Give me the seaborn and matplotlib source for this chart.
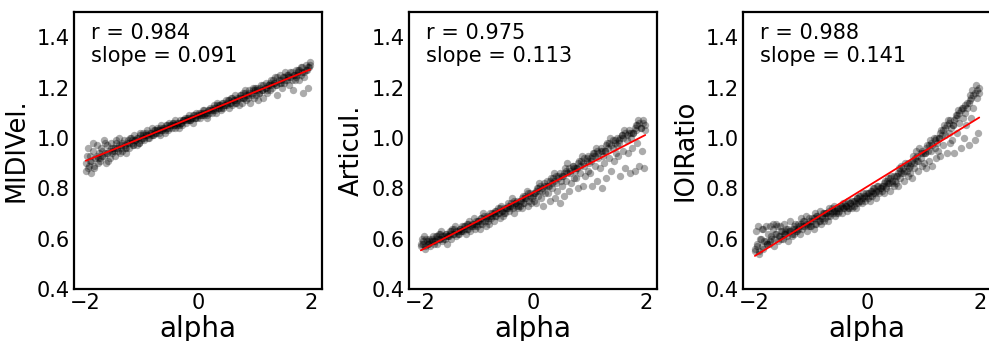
import matplotlib
matplotlib.use("Agg")
import matplotlib.pyplot as plt
import pandas as pd
import seaborn as sns

# shared alpha values (x): first pass (12 per bin), second pass (8 per bin)
alpha_vals = [
    -1.99, -1.97, -1.96, -1.94, -1.91, -1.89, -1.87, -1.85, -1.83, -1.80, -1.78, -1.76,
    -1.74, -1.72, -1.70, -1.67, -1.65, -1.63, -1.61, -1.58, -1.56, -1.54, -1.53, -1.51,
    -1.49, -1.47, -1.45, -1.43, -1.40, -1.38, -1.36, -1.34, -1.32, -1.30, -1.28, -1.26,
    -1.24, -1.22, -1.19, -1.17, -1.15, -1.13, -1.11, -1.09, -1.07, -1.05, -1.03, -1.01,
    -0.99, -0.97, -0.95, -0.92, -0.90, -0.88, -0.86, -0.84, -0.82, -0.80, -0.78, -0.76,
    -0.74, -0.72, -0.70, -0.68, -0.65, -0.63, -0.61, -0.59, -0.57, -0.55, -0.53, -0.51,
    -0.49, -0.47, -0.45, -0.43, -0.41, -0.38, -0.36, -0.34, -0.32, -0.30, -0.28, -0.26,
    -0.24, -0.22, -0.20, -0.18, -0.16, -0.14, -0.11, -0.09, -0.07, -0.05, -0.03, -0.01,
    0.01, 0.03, 0.05, 0.07, 0.09, 0.11, 0.14, 0.16, 0.18, 0.20, 0.22, 0.24,
    0.26, 0.28, 0.30, 0.32, 0.34, 0.37, 0.39, 0.41, 0.43, 0.45, 0.47, 0.49,
    0.51, 0.53, 0.55, 0.57, 0.59, 0.61, 0.64, 0.66, 0.68, 0.70, 0.72, 0.74,
    0.76, 0.78, 0.80, 0.82, 0.84, 0.86, 0.88, 0.91, 0.93, 0.95, 0.97, 0.99,
    1.01, 1.03, 1.05, 1.07, 1.09, 1.11, 1.13, 1.16, 1.18, 1.20, 1.22, 1.24,
    1.26, 1.28, 1.30, 1.32, 1.34, 1.36, 1.38, 1.41, 1.43, 1.45, 1.47, 1.49,
    1.51, 1.53, 1.55, 1.57, 1.59, 1.61, 1.63, 1.66, 1.68, 1.70, 1.72, 1.74,
    1.76, 1.78, 1.80, 1.82, 1.84, 1.86, 1.88, 1.91, 1.93, 1.95, 1.97, 1.99,
    # second pass
    -1.98, -1.95, -1.92, -1.90, -1.87, -1.84, -1.80, -1.77,
    -1.73, -1.70, -1.67, -1.65, -1.62, -1.59, -1.55, -1.52,
    -1.48, -1.45, -1.42, -1.40, -1.37, -1.34, -1.30, -1.27,
    -1.23, -1.20, -1.17, -1.15, -1.12, -1.09, -1.05, -1.02,
    -0.98, -0.95, -0.92, -0.90, -0.87, -0.84, -0.80, -0.77,
    -0.73, -0.70, -0.67, -0.65, -0.62, -0.59, -0.55, -0.52,
    -0.48, -0.45, -0.42, -0.40, -0.37, -0.34, -0.30, -0.27,
    -0.23, -0.20, -0.17, -0.15, -0.12, -0.09, -0.05, -0.02,
    0.02, 0.05, 0.08, 0.10, 0.13, 0.16, 0.20, 0.23,
    0.27, 0.30, 0.33, 0.35, 0.38, 0.41, 0.45, 0.48,
    0.52, 0.55, 0.58, 0.60, 0.63, 0.66, 0.70, 0.73,
    0.77, 0.80, 0.83, 0.85, 0.88, 0.91, 0.95, 0.98,
    1.02, 1.05, 1.08, 1.10, 1.13, 1.16, 1.20, 1.23,
    1.27, 1.30, 1.33, 1.35, 1.38, 1.41, 1.45, 1.48,
    1.52, 1.55, 1.58, 1.60, 1.63, 1.66, 1.70, 1.73,
    1.77, 1.80, 1.83, 1.85, 1.88, 1.91, 1.95, 1.98,
]

midi_vel = [
    0.87, 0.93, 0.96, 0.89, 0.91, 0.86, 0.95, 0.88, 0.92, 0.97, 0.90, 0.94,
    0.91, 0.96, 0.93, 0.99, 0.94, 0.90, 0.97, 0.95, 0.92, 0.98, 0.94, 0.96,
    0.95, 0.93, 0.98, 0.96, 1.00, 0.94, 0.97, 0.95, 0.99, 0.96, 0.94, 0.98,
    0.99, 0.96, 1.00, 0.98, 0.97, 1.01, 0.99, 0.97, 1.00, 0.98, 1.02, 0.99,
    1.00, 1.02, 0.99, 1.01, 1.03, 1.00, 1.02, 1.01, 1.04, 1.01, 1.03, 1.02,
    1.02, 1.04, 1.03, 1.01, 1.05, 1.03, 1.04, 1.02, 1.05, 1.04, 1.03, 1.06,
    1.05, 1.04, 1.06, 1.05, 1.07, 1.05, 1.06, 1.04, 1.07, 1.06, 1.05, 1.07,
    1.07, 1.06, 1.08, 1.07, 1.09, 1.07, 1.08, 1.06, 1.09, 1.08, 1.10, 1.08,
    1.09, 1.08, 1.10, 1.09, 1.11, 1.09, 1.10, 1.08, 1.11, 1.10, 1.12, 1.10,
    1.11, 1.13, 1.12, 1.10, 1.14, 1.12, 1.13, 1.11, 1.14, 1.12, 1.13, 1.15,
    1.13, 1.15, 1.12, 1.14, 1.16, 1.13, 1.15, 1.17, 1.14, 1.16, 1.13, 1.17,
    1.16, 1.14, 1.18, 1.16, 1.19, 1.15, 1.17, 1.19, 1.14, 1.18, 1.20, 1.16,
    1.19, 1.17, 1.20, 1.15, 1.18, 1.21, 1.19, 1.16, 1.20, 1.22, 1.18, 1.21,
    1.21, 1.19, 1.23, 1.20, 1.22, 1.24, 1.21, 1.17, 1.23, 1.25, 1.22, 1.20,
    1.24, 1.22, 1.26, 1.23, 1.25, 1.21, 1.24, 1.26, 1.19, 1.25, 1.23, 1.27,
    1.25, 1.27, 1.23, 1.28, 1.26, 1.18, 1.24, 1.29, 1.27, 1.20, 1.28, 1.30,
    # second pass
    0.90, 0.88, 0.93, 0.91, 0.98, 0.89, 0.93, 0.92,
    0.92, 0.95, 0.93, 0.98, 0.94, 0.91, 0.96, 0.95,
    0.96, 0.99, 0.95, 0.97, 0.96, 0.98, 0.97, 0.96,
    0.98, 1.00, 0.99, 0.97, 0.99, 1.00, 0.98, 1.01,
    1.01, 1.00, 1.02, 1.01, 1.00, 1.02, 1.01, 1.03,
    1.03, 1.02, 1.04, 1.03, 1.04, 1.03, 1.05, 1.04,
    1.05, 1.06, 1.05, 1.04, 1.06, 1.05, 1.06, 1.07,
    1.08, 1.07, 1.08, 1.07, 1.08, 1.09, 1.08, 1.09,
    1.10, 1.09, 1.10, 1.11, 1.10, 1.09, 1.11, 1.11,
    1.12, 1.11, 1.13, 1.12, 1.13, 1.12, 1.14, 1.13,
    1.14, 1.15, 1.14, 1.16, 1.15, 1.14, 1.15, 1.16,
    1.17, 1.16, 1.18, 1.17, 1.16, 1.18, 1.17, 1.19,
    1.20, 1.19, 1.18, 1.20, 1.19, 1.21, 1.20, 1.19,
    1.22, 1.21, 1.23, 1.22, 1.21, 1.24, 1.22, 1.23,
    1.24, 1.23, 1.25, 1.24, 1.26, 1.23, 1.25, 1.24,
    1.26, 1.27, 1.25, 1.28, 1.26, 1.27, 1.28, 1.29,
]

articul = [
    0.57, 0.60, 0.58, 0.61, 0.56, 0.59, 0.58, 0.60, 0.57, 0.59, 0.61, 0.58,
    0.59, 0.61, 0.58, 0.62, 0.60, 0.63, 0.59, 0.61, 0.60, 0.62, 0.58, 0.61,
    0.61, 0.63, 0.60, 0.64, 0.62, 0.65, 0.61, 0.63, 0.62, 0.64, 0.63, 0.65,
    0.63, 0.65, 0.62, 0.66, 0.64, 0.67, 0.63, 0.65, 0.66, 0.68, 0.64, 0.66,
    0.65, 0.67, 0.64, 0.68, 0.66, 0.70, 0.67, 0.65, 0.69, 0.68, 0.66, 0.70,
    0.68, 0.70, 0.67, 0.71, 0.69, 0.72, 0.70, 0.68, 0.73, 0.71, 0.69, 0.72,
    0.70, 0.72, 0.74, 0.71, 0.73, 0.76, 0.72, 0.70, 0.74, 0.73, 0.75, 0.72,
    0.73, 0.75, 0.72, 0.77, 0.74, 0.76, 0.79, 0.73, 0.75, 0.78, 0.74, 0.77,
    0.75, 0.78, 0.74, 0.80, 0.77, 0.82, 0.76, 0.79, 0.73, 0.81, 0.78, 0.83,
    0.78, 0.81, 0.75, 0.84, 0.80, 0.86, 0.76, 0.82, 0.79, 0.85, 0.74, 0.83,
    0.81, 0.85, 0.77, 0.88, 0.83, 0.90, 0.79, 0.86, 0.82, 0.89, 0.84, 0.87,
    0.84, 0.88, 0.80, 0.91, 0.86, 0.93, 0.81, 0.89, 0.85, 0.92, 0.87, 0.90,
    0.86, 0.91, 0.81, 0.94, 0.89, 0.96, 0.83, 0.92, 0.88, 0.95, 0.80, 0.93,
    0.90, 0.95, 0.84, 0.98, 0.92, 1.00, 0.87, 0.96, 0.91, 0.99, 0.94, 0.97,
    0.93, 0.98, 0.85, 1.01, 0.95, 1.03, 0.88, 0.99, 0.94, 1.02, 0.86, 1.00,
    0.96, 1.02, 0.87, 1.05, 0.98, 1.07, 0.89, 1.04, 0.95, 1.06, 0.88, 1.03,
    # second pass
    0.58, 0.59, 0.57, 0.60, 0.58, 0.59, 0.60, 0.59,
    0.60, 0.61, 0.60, 0.62, 0.61, 0.60, 0.62, 0.61,
    0.62, 0.63, 0.62, 0.64, 0.63, 0.62, 0.64, 0.63,
    0.64, 0.65, 0.64, 0.66, 0.65, 0.66, 0.65, 0.67,
    0.67, 0.66, 0.68, 0.67, 0.69, 0.68, 0.67, 0.69,
    0.69, 0.70, 0.69, 0.71, 0.70, 0.72, 0.71, 0.70,
    0.72, 0.73, 0.72, 0.74, 0.73, 0.75, 0.74, 0.73,
    0.75, 0.76, 0.74, 0.77, 0.76, 0.78, 0.77, 0.76,
    0.78, 0.79, 0.80, 0.79, 0.81, 0.80, 0.82, 0.81,
    0.81, 0.83, 0.82, 0.84, 0.83, 0.85, 0.84, 0.86,
    0.85, 0.86, 0.87, 0.86, 0.88, 0.87, 0.89, 0.88,
    0.88, 0.90, 0.89, 0.91, 0.90, 0.92, 0.91, 0.93,
    0.92, 0.93, 0.94, 0.93, 0.95, 0.94, 0.96, 0.95,
    0.95, 0.97, 0.96, 0.98, 0.97, 0.99, 0.98, 1.00,
    0.99, 1.00, 1.01, 1.00, 1.02, 1.01, 1.03, 1.02,
    1.02, 1.04, 1.03, 1.05, 1.06, 1.04, 1.07, 1.05,
]

ioi_ratio = [
    0.55, 0.63, 0.57, 0.65, 0.54, 0.60, 0.64, 0.56, 0.59, 0.65, 0.58, 0.62,
    0.58, 0.65, 0.60, 0.66, 0.57, 0.62, 0.66, 0.59, 0.61, 0.65, 0.60, 0.63,
    0.60, 0.66, 0.62, 0.64, 0.59, 0.63, 0.67, 0.61, 0.64, 0.62, 0.66, 0.63,
    0.63, 0.66, 0.62, 0.68, 0.64, 0.67, 0.65, 0.69, 0.63, 0.66, 0.68, 0.65,
    0.65, 0.68, 0.64, 0.70, 0.66, 0.69, 0.67, 0.71, 0.66, 0.68, 0.70, 0.67,
    0.68, 0.70, 0.67, 0.72, 0.69, 0.71, 0.70, 0.73, 0.69, 0.71, 0.72, 0.70,
    0.71, 0.73, 0.70, 0.74, 0.72, 0.73, 0.71, 0.75, 0.72, 0.74, 0.73, 0.72,
    0.73, 0.75, 0.72, 0.76, 0.74, 0.77, 0.75, 0.74, 0.78, 0.76, 0.75, 0.77,
    0.76, 0.78, 0.75, 0.79, 0.77, 0.80, 0.78, 0.76, 0.81, 0.79, 0.78, 0.80,
    0.79, 0.81, 0.78, 0.83, 0.80, 0.84, 0.82, 0.79, 0.85, 0.82, 0.81, 0.83,
    0.82, 0.85, 0.81, 0.88, 0.84, 0.89, 0.86, 0.83, 0.90, 0.87, 0.85, 0.88,
    0.86, 0.90, 0.84, 0.93, 0.88, 0.95, 0.91, 0.87, 0.96, 0.92, 0.89, 0.94,
    0.90, 0.94, 0.88, 0.97, 0.91, 0.99, 0.95, 0.89, 1.00, 0.96, 0.92, 0.98,
    0.95, 1.00, 0.93, 1.03, 0.97, 1.05, 1.01, 0.94, 1.07, 1.02, 0.98, 1.04,
    0.99, 1.05, 0.94, 1.09, 1.02, 1.11, 1.06, 0.96, 1.12, 1.08, 1.00, 1.10,
    1.05, 1.14, 0.97, 1.17, 1.08, 1.19, 1.12, 0.99, 1.21, 1.16, 1.02, 1.18,
    # second pass
    0.56, 0.58, 0.55, 0.60, 0.57, 0.64, 0.59, 0.58,
    0.59, 0.61, 0.64, 0.60, 0.62, 0.65, 0.61, 0.63,
    0.62, 0.63, 0.61, 0.64, 0.63, 0.62, 0.65, 0.64,
    0.64, 0.65, 0.66, 0.65, 0.67, 0.66, 0.65, 0.67,
    0.67, 0.68, 0.66, 0.69, 0.68, 0.67, 0.69, 0.70,
    0.70, 0.69, 0.71, 0.70, 0.72, 0.71, 0.70, 0.72,
    0.72, 0.73, 0.72, 0.74, 0.73, 0.72, 0.74, 0.75,
    0.75, 0.74, 0.76, 0.75, 0.77, 0.76, 0.77, 0.78,
    0.78, 0.77, 0.79, 0.78, 0.80, 0.79, 0.81, 0.80,
    0.81, 0.82, 0.81, 0.83, 0.82, 0.84, 0.83, 0.85,
    0.85, 0.86, 0.87, 0.86, 0.88, 0.87, 0.89, 0.90,
    0.89, 0.91, 0.90, 0.92, 0.93, 0.91, 0.94, 0.95,
    0.94, 0.96, 0.95, 0.97, 0.98, 0.97, 0.99, 1.00,
    1.00, 1.02, 1.01, 1.03, 1.04, 1.05, 1.06, 1.07,
    1.05, 1.07, 1.08, 1.09, 1.10, 1.11, 1.12, 1.13,
    1.12, 1.14, 1.15, 1.16, 1.17, 1.18, 1.19, 1.20,
]

panel_names = ["MIDIVel.", "Articul.", "IOIRatio"]
r_texts = ["0.984", "0.975", "0.988"]
slope_texts = ["0.091", "0.113", "0.141"]
y_ticks = [0.4, 0.6, 0.8, 1.0, 1.2, 1.4]
x_ticks = [-2, 0, 2]

sns.set_style("white")
plt.rcParams["font.family"] = ["DejaVu Sans"]
plt.rcParams.update({"text.color": "black", "axes.labelcolor": "black",
                     "xtick.color": "black", "ytick.color": "black"})

fig = plt.figure(figsize=(9.89, 3.41), dpi=100)
lefts = [0.0748, 0.4136, 0.7513]
series = [midi_vel, articul, ioi_ratio]

for left, name, vals, r_txt, s_txt in zip(lefts, panel_names, series, r_texts, slope_texts):
    ax = fig.add_axes([left, 0.1525, 0.2508, 0.8123])
    df = pd.DataFrame({"alpha": alpha_vals, name: vals})
    sns.regplot(data=df, x="alpha", y=name, ax=ax, ci=None, truncate=True,
                color="black",
                scatter_kws=dict(s=28, color="black", alpha=0.33, linewidths=0),
                line_kws=dict(color="red", lw=1.3))
    ax.set_xlim(-2.2, 2.2)
    ax.set_ylim(0.4, 1.5)
    ax.set_xticks(x_ticks)
    ax.set_yticks(y_ticks)
    ax.set_yticklabels([f"{t:.1f}" for t in y_ticks])
    ax.tick_params(length=0, pad=3, labelsize=15)
    ax.set_xlabel("alpha", fontsize=20, labelpad=1)
    ax.set_ylabel(name, fontsize=18.5, labelpad=5)
    for sp in ax.spines.values():
        sp.set_color("black")
        sp.set_linewidth(1.6)
    ax.text(0.07, 0.96, f"r = {r_txt}\nslope = {s_txt}", transform=ax.transAxes,
            ha="left", va="top", fontsize=15)

fig.savefig("out.png", dpi=100)
